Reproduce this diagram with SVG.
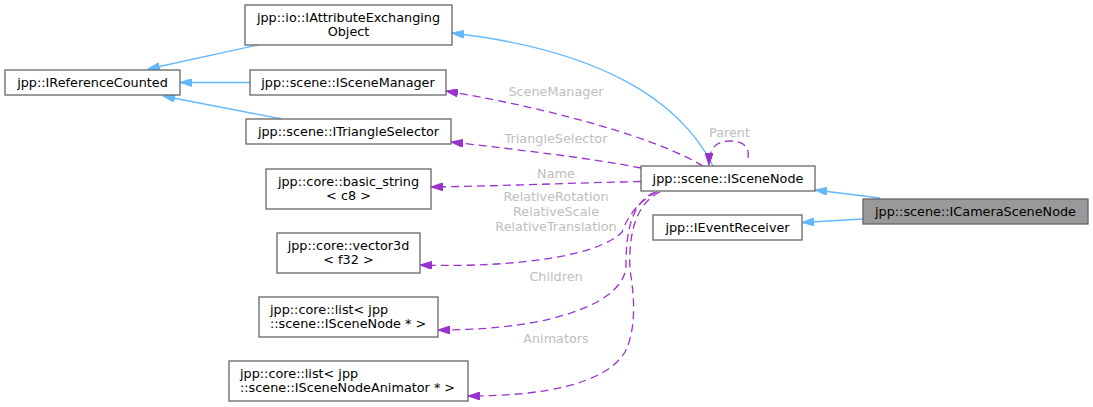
<svg xmlns="http://www.w3.org/2000/svg" width="1093" height="407" viewBox="0 0 1093 407">
<style>
.n rect{fill:#ffffff;stroke:#666666;stroke-width:1.3}
.n text,.lbl{font-family:"DejaVu Sans",sans-serif;font-size:12.8px;fill:#000000}
.c{text-anchor:middle}
.lbl{fill:#bebebe;text-anchor:middle}
.b{fill:none;stroke:#63b8ff;stroke-width:1.3}
.p{fill:none;stroke:#9a32cd;stroke-width:1.3;stroke-dasharray:8,5}
</style>
<defs>
<marker id="ab" viewBox="0 0 12 8" refX="12" refY="4" markerWidth="12" markerHeight="8" markerUnits="userSpaceOnUse" orient="auto"><path d="M0,0 L12,4 L0,8 z" fill="#63b8ff" stroke="#63b8ff"/></marker>
<marker id="ap" viewBox="0 0 12 8" refX="12" refY="4" markerWidth="12" markerHeight="8" markerUnits="userSpaceOnUse" orient="auto"><path d="M0,0 L12,4 L0,8 z" fill="#9a32cd" stroke="#9a32cd"/></marker>
</defs>
<g id="edges">
<path class="b" d="M258,45 L148,69" marker-end="url(#ab)"/>
<path class="b" d="M250,82.5 L180,82.5" marker-end="url(#ab)"/>
<path class="b" d="M282,119 L163,96" marker-end="url(#ab)"/>
<path class="b" d="M713,166 C680,100 600,50 452,33" marker-end="url(#ab)"/>
<path class="b" d="M880,198 L815,190" marker-end="url(#ab)"/>
<path class="b" d="M863,219 L802,222.5" marker-end="url(#ab)"/>
<path class="p" d="M703,166 C660,140 560,110 446,91" marker-end="url(#ap)"/>
<path class="p" d="M641,168 C590,158 520,150 451,142" marker-end="url(#ap)"/>
<path class="p" d="M641,181.5 C570,183 500,186 431,187" marker-end="url(#ap)"/>
<path class="p" d="M657,192 C640,200 628,215 622,232 C600,255 520,268 420,265" marker-end="url(#ap)"/>
<path class="p" d="M655,192 C632,202 626,230 626,265 C626,300 560,330 438,330" marker-end="url(#ap)"/>
<path class="p" d="M660,192 C638,202 628,230 630,270 C635,300 636,330 625,352 C605,385 540,396 468,396" marker-end="url(#ap)"/>
<path class="p" d="M748,158 C750,146 742,141 730,141 C716,141 709,148 709,165" marker-end="url(#ap)"/>
<text class="lbl" x="556" y="96">SceneManager</text>
<text class="lbl" x="556" y="143">TriangleSelector</text>
<text class="lbl" x="556" y="178">Name</text>
<text class="lbl" x="556" y="201">RelativeRotation</text>
<text class="lbl" x="556" y="216">RelativeScale</text>
<text class="lbl" x="556" y="230.5">RelativeTranslation</text>
<text class="lbl" x="556" y="281">Children</text>
<text class="lbl" x="556" y="343">Animators</text>
<text class="lbl" x="729.5" y="137">Parent</text>
</g>
<g id="ICameraSceneNode" class="n"><rect x="863" y="199" width="225" height="25" style="fill:#999999"/><text class="c" x="975.5" y="216">jpp::scene::ICameraSceneNode</text></g>
<g id="ISceneNode" class="n"><rect x="641" y="166" width="174" height="25"/><text class="c" x="728" y="183">jpp::scene::ISceneNode</text></g>
<g id="IEventReceiver" class="n"><rect x="653" y="215" width="149" height="25"/><text class="c" x="727.5" y="232">jpp::IEventReceiver</text></g>
<g id="IReferenceCounted" class="n"><rect x="5" y="70" width="175" height="25"/><text class="c" x="92.5" y="87">jpp::IReferenceCounted</text></g>
<g id="IAttributeExchangingObject" class="n"><rect x="245" y="5" width="207" height="40"/><text class="c" x="348.5" y="21.5">jpp::io::IAttributeExchanging</text><text class="c" x="348.5" y="36">Object</text></g>
<g id="ISceneManager" class="n"><rect x="250" y="70" width="196" height="25"/><text class="c" x="348" y="87">jpp::scene::ISceneManager</text></g>
<g id="ITriangleSelector" class="n"><rect x="246" y="119" width="205" height="25"/><text class="c" x="348.5" y="136">jpp::scene::ITriangleSelector</text></g>
<g id="basic_string" class="n"><rect x="266" y="169" width="165" height="40"/><text class="c" x="348.5" y="185.5">jpp::core::basic_string</text><text class="c" x="348.5" y="200">&lt; c8 &gt;</text></g>
<g id="vector3d" class="n"><rect x="277" y="233" width="143" height="40"/><text class="c" x="348.5" y="249.5">jpp::core::vector3d</text><text class="c" x="348.5" y="264">&lt; f32 &gt;</text></g>
<g id="listSceneNode" class="n"><rect x="259" y="297" width="179" height="40"/><text x="270" y="313.5">jpp::core::list&lt; jpp</text><text x="270" y="328">::scene::ISceneNode * &gt;</text></g>
<g id="listAnimator" class="n"><rect x="229" y="361" width="239" height="40"/><text x="240" y="377.5">jpp::core::list&lt; jpp</text><text x="240" y="392">::scene::ISceneNodeAnimator * &gt;</text></g>
</svg>
